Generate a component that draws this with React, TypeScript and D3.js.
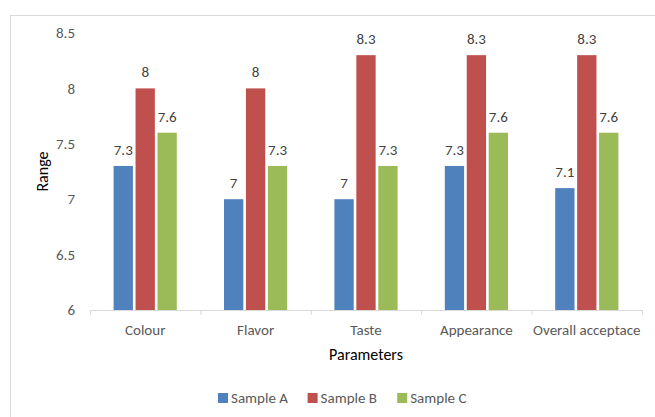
import React from 'react';
import * as d3 from 'd3';

// chart data
const categories = ['Colour', 'Flavor', 'Taste', 'Appearance', 'Overall acceptace'];
const seriesNames = ['Sample A', 'Sample B', 'Sample C'];
const sampleA = [7.3, 7, 7, 7.3, 7.1];
const sampleB = [8, 8, 8.3, 8.3, 8.3];
const sampleC = [7.6, 7.3, 7.3, 7.6, 7.6];
const yTicks = [6, 6.5, 7, 7.5, 8, 8.5];
const colors = ['#4F81BD', '#C0504D', '#9BBB59'];

const W = 655, H = 417;
const margin = { top: 33, right: 13, bottom: 107, left: 90 };
const width = W - margin.left - margin.right;
const height = H - margin.top - margin.bottom;
const FONT = "Carlito, Calibri, 'Open Sans', sans-serif";

function App() {
  const series = [sampleA, sampleB, sampleC];

  const x0 = d3.scaleBand<string>()
    .domain(categories)
    .range([0, width])
    .paddingInner(0.38)
    .paddingOuter(0.19);
  const x1 = d3.scaleBand<string>()
    .domain(seriesNames)
    .range([0, x0.bandwidth()])
    .padding(0.12);
  const y = d3.scaleLinear().domain([6, 8.5]).range([height, 0]);

  // group ticks sit at the category boundaries
  const step = width / categories.length;
  const boundaries = d3.range(categories.length + 1).map((i) => i * step);

  // legend entries laid out by label length
  let lx = 0;
  const legendX = seriesNames.map((s) => {
    const p = lx;
    lx += 13 + s.length * 7.2 + 19;
    return p;
  });

  return (
    <svg width={W} height={H} style={{ position: 'absolute', left: 0, top: 0, background: '#fff' }}
      fontFamily={FONT}>
      {/* chart frame (cropped in the original) */}
      <rect x={10.5} y={15.5} width={W + 20} height={H + 20} fill="none" stroke="#D9D9D9" />
      <g transform={`translate(${margin.left},${margin.top})`}>
        {yTicks.map((t) => (
          <text key={t} x={-15} y={y(t)} dy="0.35em" textAnchor="end" fontSize={15} fill="#595959">
            {t}
          </text>
        ))}
        {series.map((vals, si) =>
          vals.map((v, ci) => {
            const bx = (x0(categories[ci]) || 0) + (x1(seriesNames[si]) || 0);
            return (
              <g key={`${si}-${ci}`}>
                <rect x={bx} y={y(v)} width={x1.bandwidth()} height={height - y(v)} fill={colors[si]} />
                <text x={bx + x1.bandwidth() / 2} y={y(v) - 11} textAnchor="middle" fontSize={15} fill="#404040">
                  {v}
                </text>
              </g>
            );
          })
        )}
        <line x1={0} x2={width} y1={height + 0.5} y2={height + 0.5} stroke="#D9D9D9" />
        {boundaries.map((b, i) => (
          <line key={i} x1={b + 0.5} x2={b + 0.5} y1={height} y2={height + 5} stroke="#D9D9D9" />
        ))}
        {categories.map((c) => (
          <text key={c} x={(x0(c) || 0) + x0.bandwidth() / 2} y={height + 25} textAnchor="middle"
            fontSize={15} fill="#595959">
            {c}
          </text>
        ))}
        <text x={width / 2} y={height + 50} textAnchor="middle" fontSize={16} fill="#000">Parameters</text>
        <text transform={`translate(${-42},${height / 2}) rotate(-90)`} textAnchor="middle" fontSize={16}
          fill="#000">Range</text>
      </g>
      <g transform="translate(218,398)">
        {seriesNames.map((s, i) => (
          <g key={s} transform={`translate(${legendX[i]},0)`}>
            <rect x={0} y={-5} width={10} height={10} fill={colors[i]} />
            <text x={13} y={0} dy="0.35em" fontSize={15} fill="#595959">{s}</text>
          </g>
        ))}
      </g>
    </svg>
  );
}

export default App;
